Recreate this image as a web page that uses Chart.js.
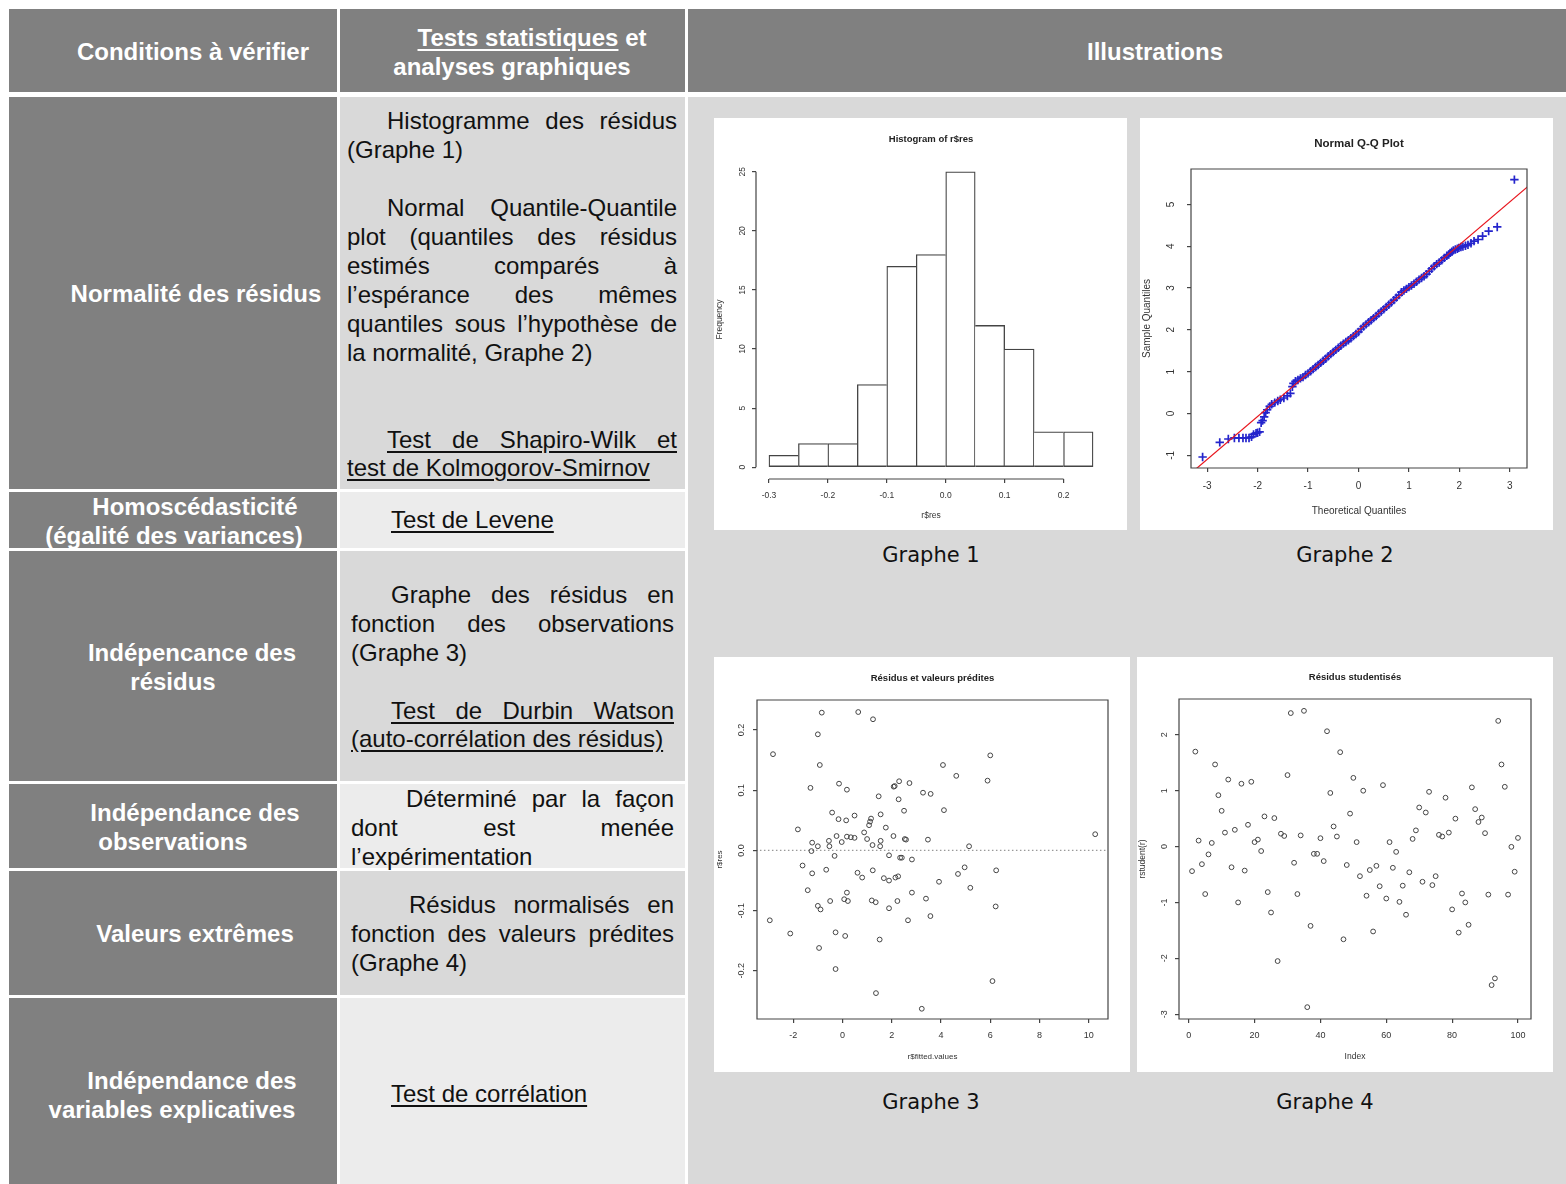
<!DOCTYPE html>
<html>
<head>
<meta charset="utf-8">
<title>Conditions à vérifier</title>
<script src="https://cdnjs.cloudflare.com/ajax/libs/Chart.js/4.4.0/chart.umd.min.js"></script>
<style>
  body { margin:0; width:1566px; height:1184px; position:relative; overflow:hidden; background:#fff;
         font-family:"Liberation Sans", Arial, sans-serif; }
  .c { position:absolute; }
  .dk { background:#808080; }
  .l1 { background:#d9d9d9; }
  .l2 { background:#ececec; }
  .t { position:absolute; white-space:nowrap; line-height:29px; font-size:24px; color:#111; }
  .w { color:#fff; font-weight:bold; text-align:center; width:400px; }
  .j { text-align:justify; text-align-last:justify; }
  .u { text-decoration:underline; text-underline-offset:3px; }
  .cap { position:absolute; width:300px; text-align:center; font-family:"DejaVu Sans", sans-serif;
         font-size:21px; line-height:29px; color:#111; }
  .panel { position:absolute; background:#fff; }
  .panel canvas { display:block; }
</style>
</head>
<body>
  <!-- header -->
  <div class="c dk" style="left:9px;top:9px;width:328px;height:83px"></div>
  <div class="c dk" style="left:340px;top:9px;width:345px;height:83px"></div>
  <div class="c dk" style="left:688px;top:9px;width:878px;height:83px"></div>

  <!-- body cells -->
  <div class="c dk" style="left:9px;top:97px;width:328px;height:392px"></div>
  <div class="c dk" style="left:9px;top:492px;width:328px;height:56px"></div>
  <div class="c dk" style="left:9px;top:551px;width:328px;height:230px"></div>
  <div class="c dk" style="left:9px;top:784px;width:328px;height:84px"></div>
  <div class="c dk" style="left:9px;top:871px;width:328px;height:124px"></div>
  <div class="c dk" style="left:9px;top:998px;width:328px;height:186px"></div>

  <div class="c l1" style="left:340px;top:97px;width:345px;height:392px"></div>
  <div class="c l2" style="left:340px;top:492px;width:345px;height:56px"></div>
  <div class="c l1" style="left:340px;top:551px;width:345px;height:230px"></div>
  <div class="c l2" style="left:340px;top:784px;width:345px;height:84px"></div>
  <div class="c l1" style="left:340px;top:871px;width:345px;height:124px"></div>
  <div class="c l2" style="left:340px;top:998px;width:345px;height:186px"></div>

  <div class="c l1" style="left:688px;top:97px;width:878px;height:1087px"></div>

  <!-- header text -->
  <div class="t w" style="left:-7px;top:37px">Conditions à vérifier</div>
  <div class="t w" style="left:332px;top:23px"><span class="u">Tests statistiques</span> et</div>
  <div class="t w" style="left:312px;top:52px">analyses graphiques</div>
  <div class="t w" style="left:955px;top:37px">Illustrations</div>

  <!-- first column -->
  <div class="t w" style="left:-4px;top:279px">Normalité des résidus</div>
  <div class="t w" style="left:-5px;top:492px">Homoscédasticité</div>
  <div class="t w" style="left:-26px;top:521px">(égalité des variances)</div>
  <div class="t w" style="left:-8px;top:638px">Indépencance des</div>
  <div class="t w" style="left:-27px;top:667px">résidus</div>
  <div class="t w" style="left:-5px;top:798px">Indépendance des</div>
  <div class="t w" style="left:-27px;top:827px">observations</div>
  <div class="t w" style="left:-5px;top:919px">Valeurs extrêmes</div>
  <div class="t w" style="left:-8px;top:1066px">Indépendance des</div>
  <div class="t w" style="left:-28px;top:1095px">variables explicatives</div>

  <!-- second column -->
  <div class="t j" style="left:387px;width:290px;top:106px">Histogramme des résidus</div>
  <div class="t" style="left:347px;top:135px">(Graphe 1)</div>
  <div class="t j" style="left:387px;width:290px;top:193px">Normal Quantile-Quantile</div>
  <div class="t j" style="left:347px;width:330px;top:222px">plot (quantiles des résidus</div>
  <div class="t j" style="left:347px;width:330px;top:251px">estimés comparés à</div>
  <div class="t j" style="left:347px;width:330px;top:280px">l’espérance des mêmes</div>
  <div class="t j" style="left:347px;width:330px;top:309px">quantiles sous l’hypothèse de</div>
  <div class="t" style="left:347px;top:338px">la normalité, Graphe 2)</div>
  <div class="t j u" style="left:387px;width:290px;top:425px">Test de Shapiro-Wilk et</div>
  <div class="t u" style="left:347px;top:453px">test de Kolmogorov-Smirnov</div>

  <div class="t u" style="left:391px;top:505px">Test de Levene</div>

  <div class="t j" style="left:391px;width:283px;top:580px">Graphe des résidus en</div>
  <div class="t j" style="left:351px;width:323px;top:609px">fonction des observations</div>
  <div class="t" style="left:351px;top:638px">(Graphe 3)</div>
  <div class="t j u" style="left:391px;width:283px;top:696px">Test de Durbin Watson</div>
  <div class="t u" style="left:351px;top:724px">(auto-corrélation des résidus)</div>

  <div class="t j" style="left:406px;width:268px;top:784px">Déterminé par la façon</div>
  <div class="t j" style="left:351px;width:323px;top:813px">dont est menée</div>
  <div class="t" style="left:351px;top:842px">l’expérimentation</div>

  <div class="t j" style="left:409px;width:265px;top:890px">Résidus normalisés en</div>
  <div class="t j" style="left:351px;width:323px;top:919px">fonction des valeurs prédites</div>
  <div class="t" style="left:351px;top:948px">(Graphe 4)</div>

  <div class="t u" style="left:391px;top:1079px">Test de corrélation</div>

  <!-- illustrations -->
  <div class="panel" style="left:714px;top:118px"><canvas id="g1" width="413" height="412"></canvas></div>
  <div class="panel" style="left:1140px;top:118px"><canvas id="g2" width="413" height="412"></canvas></div>
  <div class="panel" style="left:714px;top:657px"><canvas id="g3" width="416" height="415"></canvas></div>
  <div class="panel" style="left:1137px;top:657px"><canvas id="g4" width="416" height="415"></canvas></div>

  <div class="cap" style="left:781px;top:541px">Graphe 1</div>
  <div class="cap" style="left:1195px;top:541px">Graphe 2</div>
  <div class="cap" style="left:781px;top:1088px">Graphe 3</div>
  <div class="cap" style="left:1175px;top:1088px">Graphe 4</div>

<script>
  // Graphe 1 : histogram of residuals
  var histEdges = [-0.3, -0.25, -0.2, -0.15, -0.1, -0.05, 0, 0.05, 0.1, 0.15, 0.2, 0.25];
  var histCounts = [1, 2, 2, 7, 17, 18, 25, 12, 10, 3, 3];
  var histXTicks = [-0.3, -0.2, -0.1, 0, 0.1, 0.2];
  var histYTicks = [0, 5, 10, 15, 20, 25];

  // Graphe 2 : normal Q-Q plot (theoretical vs sample quantiles)
  var qqTheo = [-3.09, -2.75, -2.58, -2.46, -2.37, -2.29, -2.23, -2.17, -2.12, -2.08,
                -2.03, -2.00, -1.96, -1.93, -1.90, -1.87, -1.84, -1.81, -1.76, -1.72,
                -1.66, -1.60, -1.55, -1.48, -1.41, -1.35, -1.31, -1.29, -1.25,
                -1.20, -1.15, -1.10, -1.05, -1.00, -0.95, -0.90, -0.85, -0.80, -0.75,
                -0.70, -0.65, -0.60, -0.55, -0.50, -0.45, -0.40, -0.35, -0.30, -0.25,
                -0.20, -0.15, -0.10, -0.05, 0.00, 0.05, 0.10, 0.15, 0.20, 0.25,
                0.30, 0.35, 0.40, 0.45, 0.50, 0.55, 0.60, 0.65, 0.70, 0.75,
                0.80, 0.85, 0.90, 0.95, 1.00, 1.05, 1.10, 1.15, 1.20, 1.25,
                1.30, 1.35, 1.40, 1.45, 1.50, 1.55, 1.60, 1.65, 1.70, 1.75,
                1.79, 1.82, 1.85, 1.88, 1.92, 1.96, 1.99, 2.03, 2.07, 2.12,
                2.17, 2.23, 2.29, 2.37, 2.46, 2.58, 2.75, 3.09];
  var qqSample = [-1.04, -0.69, -0.61, -0.585, -0.585, -0.585, -0.585, -0.585, -0.56, -0.50,
                  -0.47, -0.46, -0.44, -0.22, -0.17, -0.08, 0.02, 0.09, 0.17, 0.22,
                  0.26, 0.30, 0.33, 0.37, 0.42, 0.48, 0.64, 0.72, 0.77,
                  0.80, 0.84, 0.87, 0.92, 0.96, 1.01, 1.06, 1.11, 1.16, 1.21,
                  1.26, 1.31, 1.37, 1.42, 1.47, 1.52, 1.57, 1.62, 1.67, 1.71,
                  1.75, 1.80, 1.85, 1.90, 1.95, 2.02, 2.08, 2.13, 2.18, 2.23,
                  2.28, 2.33, 2.39, 2.44, 2.49, 2.55, 2.60, 2.65, 2.71, 2.77,
                  2.83, 2.90, 2.94, 2.98, 3.02, 3.06, 3.10, 3.15, 3.20, 3.24,
                  3.28, 3.33, 3.40, 3.46, 3.52, 3.57, 3.61, 3.66, 3.72, 3.77,
                  3.80, 3.84, 3.87, 3.90, 3.92, 3.94, 3.96, 3.98, 3.99, 4.01,
                  4.03, 4.07, 4.12, 4.16, 4.24, 4.36, 4.46, 5.59];
  var qqLineX = [-3.5, 3.5];
  var qqLineY = [-1.611, 5.571];
  var qqXTicks = [-3, -2, -1, 0, 1, 2, 3];
  var qqYTicks = [-1, 0, 1, 2, 3, 4, 5];

  // Graphe 3 : residuals vs fitted values
  var fittedValues = [-2.82, -2.95, -2.12, -1.81, -1.62, -1.41, -1.30, -1.23, -1.26, -1.23,
                      -1.00, -1.00, -1.00, -0.95, -0.92, -0.89, -0.84, -0.66, -0.55, -0.53,
                      -0.50, -0.42, -0.32, -0.28, -0.28, -0.24, -0.16, -0.14, -0.03, 0.07,
                      0.11, 0.15, 0.18, 0.18, 0.18, 0.22, 0.34, 0.49, 0.49, 0.61,
                      0.64, 0.80, 0.88, 1.00, 1.08, 1.12, 1.16, 1.22, 1.23, 1.24,
                      1.19, 1.35, 1.36, 1.47, 1.51, 1.55, 1.55, 1.53, 1.68, 1.76,
                      1.89, 1.89, 1.89, 2.07, 2.08, 2.12, 2.15, 2.23, 2.26, 2.28,
                      2.30, 2.34, 2.41, 2.50, 2.53, 2.58, 2.66, 2.72, 2.82, 2.82,
                      3.22, 3.27, 3.39, 3.47, 3.57, 3.58, 3.92, 4.08, 4.12, 4.62,
                      4.69, 4.96, 5.14, 5.19, 5.89, 6.00, 6.09, 6.22, 6.24, 10.26];
  var residuals = [0.160, -0.116, -0.138, 0.035, -0.025, -0.066, 0.104, 0.013, -0.001, -0.038,
                   0.193, 0.007, -0.092, -0.162, 0.142, -0.098, 0.229, -0.032, 0.016, 0.007,
                   -0.084, 0.063, -0.009, -0.136, -0.197, 0.024, 0.052, 0.111, 0.014, -0.081,
                   -0.142, 0.050, 0.101, -0.070, 0.023, -0.084, 0.022, 0.058, 0.021, -0.037,
                   0.230, -0.045, 0.030, 0.019, 0.042, 0.048, 0.053, 0.009, -0.033, 0.218,
                   -0.083, -0.086, -0.237, 0.090, -0.148, 0.060, 0.016, 0.007, -0.046, 0.038,
                   -0.008, -0.050, -0.096, 0.024, 0.106, 0.107, -0.045, -0.084, -0.043, 0.085,
                   0.115, -0.012, -0.012, 0.066, 0.019, 0.018, -0.116, 0.112, -0.015, -0.070,
                   -0.263, 0.096, -0.080, 0.018, -0.109, 0.094, -0.052, 0.142, 0.067, 0.124,
                   -0.039, -0.028, 0.007, -0.062, 0.116, 0.158, -0.217, -0.093, -0.033, 0.027];
  var g3XTicks = [-2, 0, 2, 4, 6, 8, 10];
  var g3YTicks = [-0.2, -0.1, 0, 0.1, 0.2];

  // Graphe 4 : studentized residuals by observation index
  var studentRes = [-0.44, 1.70, 0.107, -0.315, -0.85, -0.14, 0.065, 1.47, 0.92, 0.64,
                    0.25, 1.20, -0.37, 0.30, -1.00, 1.125, -0.43, 0.39, 1.16, 0.08,
                    0.125, -0.08, 0.54, -0.815, -1.18, 0.51, -2.05, 0.23, 0.19, 1.28,
                    2.39, -0.29, -0.85, 0.20, 2.43, -2.875, -1.42, -0.13, -0.13, 0.15,
                    -0.26, 2.065, 0.96, 0.36, 0.18, 1.69, -1.66, -0.33, 0.59, 1.23,
                    0.08, -0.53, 1.00, -0.88, -0.42, -1.52, -0.345, -0.71, 1.10, -0.93,
                    0.08, -0.38, -0.095, -0.99, -0.70, -1.22, -0.46, 0.137, 0.29, 0.70,
                    -0.63, 0.61, 0.98, -0.69, -0.53, 0.21, 0.18, 0.875, 0.25, -1.125,
                    0.50, -1.54, -0.84, -1.00, -1.40, 1.06, 0.67, 0.44, 0.52, 0.24,
                    -0.86, -2.48, -2.36, 2.25, 1.47, 1.07, -0.86, -0.005, -0.45, 0.155];
  var g4XTicks = [0, 20, 40, 60, 80, 100];
  var g4YTicks = [-3, -2, -1, 0, 1, 2];

  var rFont = '"Liberation Sans", Arial, sans-serif';
  Chart.defaults.font.family = rFont;
  Chart.defaults.color = '#333';
  Chart.defaults.animation = false;

  // R-like axes: box or axis segments, and y tick labels written along the axis
  var rAxes = {
    id: 'rAxes',
    afterDatasetsDraw: function (chart, args, o) {
      var ctx = chart.ctx, a = chart.chartArea, x = chart.scales.x, y = chart.scales.y;
      ctx.save();
      ctx.strokeStyle = '#444';
      ctx.lineWidth = 1.2;
      ctx.beginPath();
      if (o.box) {
        ctx.rect(a.left, a.top, a.right - a.left, a.bottom - a.top);
      } else {
        ctx.moveTo(x.getPixelForValue(x.ticks[0].value), a.bottom);
        ctx.lineTo(x.getPixelForValue(x.ticks[x.ticks.length - 1].value), a.bottom);
        ctx.moveTo(a.left, y.getPixelForValue(y.ticks[0].value));
        ctx.lineTo(a.left, y.getPixelForValue(y.ticks[y.ticks.length - 1].value));
      }
      ctx.stroke();
      ctx.fillStyle = '#333';
      ctx.font = o.labSize + 'px ' + rFont;
      ctx.textAlign = 'center';
      ctx.textBaseline = 'middle';
      y.ticks.forEach(function (t) {
        ctx.save();
        ctx.translate(o.yLabX, y.getPixelForValue(t.value));
        ctx.rotate(-Math.PI / 2);
        ctx.fillText(t.value.toFixed(o.decY), 0, 0);
        ctx.restore();
      });
      ctx.restore();
    }
  };

  function tickList(values) {
    return function (sc) { sc.ticks = values.map(function (v) { return { value: v }; }); };
  }

  function rPlot(id, type, s, datasets) {
    return new Chart(document.getElementById(id), {
      type: type,
      data: { datasets: datasets },
      options: {
        responsive: false,
        animation: false,
        layout: { padding: { left: 0, top: 0, bottom: 0, right: s.W - s.R } },
        plugins: {
          legend: { display: false },
          tooltip: { enabled: false },
          title: {
            display: true, text: s.title, fullSize: false, color: '#222',
            font: { size: s.titleSize, weight: 'bold' },
            padding: { top: s.titleY - s.titleSize * 0.6, bottom: s.T - s.titleY - s.titleSize * 0.6 }
          },
          rAxes: { box: s.box, labSize: s.labSize, yLabX: s.yLabX, decY: s.decY }
        },
        scales: {
          x: {
            type: 'linear', min: s.xmin, max: s.xmax, offset: false,
            afterBuildTicks: tickList(s.xTicks),
            afterFit: function (sc) { sc.height = s.H - s.B; },
            border: { display: false },
            grid: { offset: false, drawOnChartArea: false, drawTicks: true, tickLength: 4, color: '#444', lineWidth: 1.2 },
            ticks: {
              autoSkip: false, maxRotation: 0,
              padding: s.xLabY - s.B - 4 - s.labSize * 0.6, font: { size: s.labSize },
              callback: function (v) { return Number(v).toFixed(s.decX); }
            },
            title: { display: true, text: s.xTitle, font: { size: s.axSize },
                     padding: { top: 0, bottom: s.H - s.xTitleY - s.axSize * 0.6 } }
          },
          y: {
            type: 'linear', min: s.ymin, max: s.ymax, beginAtZero: false,
            afterBuildTicks: tickList(s.yTicks),
            afterFit: function (sc) { sc.width = s.L; },
            border: { display: false },
            grid: { drawOnChartArea: false, drawTicks: true, tickLength: 4, color: '#444', lineWidth: 1.2 },
            ticks: { display: false },
            title: { display: true, text: s.yTitle, font: { size: s.axSize },
                     padding: { top: s.yTitleX - s.axSize * 0.6, bottom: 0 } }
          }
        }
      },
      plugins: [rAxes]
    });
  }

  // Graphe 1 : each shared bar edge is drawn once, by the taller bar
  var histPts = histCounts.map(function (c, i) {
    return { x: (histEdges[i] + histEdges[i + 1]) / 2, y: c };
  });
  rPlot('g1', 'bar', {
    W: 413, H: 412, L: 42, R: 392, T: 42, B: 361,
    title: 'Histogram of r$res', titleSize: 9.5, titleY: 21,
    labSize: 8.5, axSize: 8.5, xLabY: 378, xTitleY: 398, yLabX: 29, yTitleX: 6,
    xmin: -0.322, xmax: 0.272, xTicks: histXTicks, decX: 1,
    ymin: -1, ymax: 26, yTicks: histYTicks, decY: 0,
    xTitle: 'r$res', yTitle: 'Frequency', box: false
  }, [{
    data: histPts,
    backgroundColor: '#ffffff',
    borderColor: '#444',
    borderSkipped: false,
    borderWidth: function (ctx) {
      var i = ctx.dataIndex, c = histCounts[i];
      var left = i === 0 || c >= histCounts[i - 1];
      var right = i === histCounts.length - 1 || c > histCounts[i + 1];
      return { left: left ? 1.3 : 0, top: 1.3, bottom: 1.3, right: right ? 1.3 : 0 };
    },
    barPercentage: 1,
    categoryPercentage: 1
  }]);

  // Graphe 2
  rPlot('g2', 'scatter', {
    W: 413, H: 412, L: 51, R: 387, T: 51, B: 350,
    title: 'Normal Q-Q Plot', titleSize: 11.5, titleY: 26,
    labSize: 10, axSize: 10, xLabY: 368, xTitleY: 393, yLabX: 31, yTitleX: 7,
    xmin: -3.32, xmax: 3.34, xTicks: qqXTicks, decX: 0,
    ymin: -1.303, ymax: 5.845, yTicks: qqYTicks, decY: 0,
    xTitle: 'Theoretical Quantiles', yTitle: 'Sample Quantiles', box: true
  }, [{
    data: qqLineX.map(function (v, i) { return { x: v, y: qqLineY[i] }; }),
    showLine: true, borderColor: '#e8141c', borderWidth: 1.2, pointRadius: 0
  }, {
    data: qqTheo.map(function (v, i) { return { x: v, y: qqSample[i] }; }),
    pointStyle: 'cross', pointRadius: 4.2, borderColor: '#2424cc', borderWidth: 1.7
  }]);

  // Graphe 3
  rPlot('g3', 'scatter', {
    W: 416, H: 415, L: 43, R: 394, T: 43, B: 362,
    title: 'Résidus et valeurs prédites', titleSize: 9.5, titleY: 21,
    labSize: 9, axSize: 8, xLabY: 379, xTitleY: 400, yLabX: 28, yTitleX: 6,
    xmin: -3.47, xmax: 10.78, xTicks: g3XTicks, decX: 0,
    ymin: -0.28, ymax: 0.25, yTicks: g3YTicks, decY: 1,
    xTitle: 'r$fitted.values', yTitle: 'r$res', box: true
  }, [{
    data: fittedValues.map(function (v, i) { return { x: v, y: residuals[i] }; }),
    pointStyle: 'circle', pointRadius: 2.4, borderColor: '#444', borderWidth: 1,
    backgroundColor: 'rgba(0,0,0,0)'
  }, {
    data: [{ x: -4, y: 0 }, { x: 11, y: 0 }],
    showLine: true, borderColor: '#999', borderWidth: 1.2, borderDash: [1.5, 2.5], pointRadius: 0
  }]);

  // Graphe 4
  rPlot('g4', 'scatter', {
    W: 416, H: 415, L: 42, R: 394, T: 42, B: 362,
    title: 'Résidus studentisés', titleSize: 9.5, titleY: 20,
    labSize: 9, axSize: 8.5, xLabY: 379, xTitleY: 400, yLabX: 28, yTitleX: 6,
    xmin: -2.96, xmax: 103.96, xTicks: g4XTicks, decX: 0,
    ymin: -3.087, ymax: 2.642, yTicks: g4YTicks, decY: 0,
    xTitle: 'Index', yTitle: 'rstudent(r)', box: true
  }, [{
    data: studentRes.map(function (v, i) { return { x: i + 1, y: v }; }),
    pointStyle: 'circle', pointRadius: 2.4, borderColor: '#444', borderWidth: 1,
    backgroundColor: 'rgba(0,0,0,0)'
  }]);
</script>
</body>
</html>
